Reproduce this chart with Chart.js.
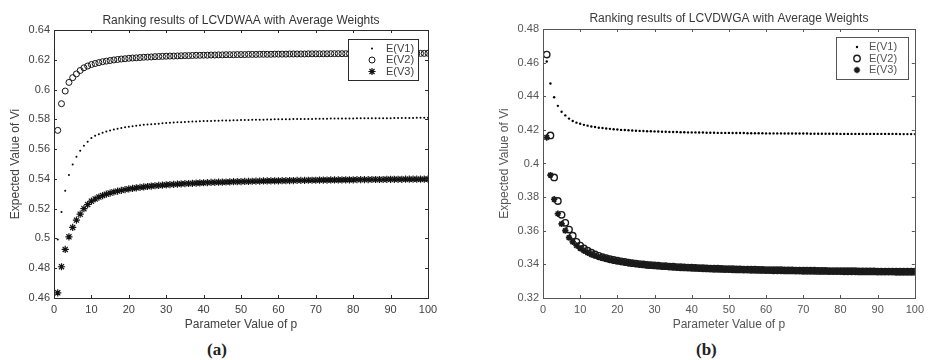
<!DOCTYPE html>
<html>
<head>
<meta charset="utf-8">
<script src="https://cdn.jsdelivr.net/npm/chart.js@4.4.1/dist/chart.umd.min.js"></script>
<style>
  body { margin: 0; background: #fff; width: 929px; height: 360px; position: relative; overflow: hidden; }
  canvas { position: absolute; top: 0; }
  #chartA { left: 0; }
  #chartB { left: 465px; }
  .cap { position: absolute; top: 341px; font: bold 17px 'Liberation Serif', serif; line-height: 18px; color: #222; }
</style>
</head>
<body>
<canvas id="chartA" width="465" height="340"></canvas>
<canvas id="chartB" width="464" height="340"></canvas>
<div class="cap" style="left:207px">(a)</div>
<div class="cap" style="left:696px">(b)</div>
<script>
// parameter p
var pValues = [1,2,3,4,5,6,7,8,9,10,11,12,13,14,15,16,17,18,19,20,21,22,23,24,25,26,27,28,29,30,
  31,32,33,34,35,36,37,38,39,40,41,42,43,44,45,46,47,48,49,50,51,52,53,54,55,56,57,58,59,60,
  61,62,63,64,65,66,67,68,69,70,71,72,73,74,75,76,77,78,79,80,81,82,83,84,85,86,87,88,89,90,
  91,92,93,94,95,96,97,98,99,100];

// (a) LCVDWAA
var waaV1 = [0.4993,0.5177,0.5320,0.5426,0.5497,0.5549,0.5589,0.5622,0.5649,0.5675,
  0.5689,0.5700,0.5710,0.5718,0.5725,0.5731,0.5737,0.5742,0.5746,0.5750,
  0.5754,0.5757,0.5760,0.5763,0.5765,0.5767,0.5769,0.5771,0.5773,0.5775,
  0.5777,0.5778,0.5780,0.5781,0.5782,0.5783,0.5785,0.5786,0.5787,0.5788,
  0.5788,0.5789,0.5790,0.5791,0.5792,0.5792,0.5793,0.5794,0.5794,0.5795,
  0.5796,0.5796,0.5797,0.5797,0.5798,0.5798,0.5799,0.5799,0.5800,0.5800,
  0.5800,0.5801,0.5801,0.5802,0.5802,0.5802,0.5803,0.5803,0.5803,0.5804,
  0.5804,0.5804,0.5804,0.5805,0.5805,0.5805,0.5806,0.5806,0.5806,0.5806,
  0.5807,0.5807,0.5807,0.5807,0.5807,0.5808,0.5808,0.5808,0.5808,0.5808,
  0.5809,0.5809,0.5809,0.5809,0.5809,0.5809,0.5810,0.5810,0.5810,0.5810];
var waaV2 = [0.5726,0.5905,0.5990,0.6048,0.6080,0.6105,0.6128,0.6146,0.6158,0.6168,
  0.6175,0.6181,0.6187,0.6191,0.6195,0.6199,0.6202,0.6205,0.6207,0.6210,
  0.6212,0.6213,0.6215,0.6217,0.6218,0.6219,0.6221,0.6222,0.6223,0.6224,
  0.6225,0.6225,0.6226,0.6227,0.6228,0.6228,0.6229,0.6230,0.6230,0.6231,
  0.6231,0.6232,0.6232,0.6233,0.6233,0.6234,0.6234,0.6234,0.6235,0.6235,
  0.6235,0.6236,0.6236,0.6236,0.6237,0.6237,0.6237,0.6237,0.6238,0.6238,
  0.6238,0.6238,0.6239,0.6239,0.6239,0.6239,0.6239,0.6240,0.6240,0.6240,
  0.6240,0.6240,0.6240,0.6241,0.6241,0.6241,0.6241,0.6241,0.6241,0.6241,
  0.6242,0.6242,0.6242,0.6242,0.6242,0.6242,0.6242,0.6242,0.6243,0.6243,
  0.6243,0.6243,0.6243,0.6243,0.6243,0.6243,0.6243,0.6243,0.6243,0.6244];
var waaV3 = [0.4635,0.4810,0.4926,0.5011,0.5074,0.5123,0.5163,0.5200,0.5228,0.5250,
  0.5265,0.5278,0.5288,0.5297,0.5305,0.5312,0.5318,0.5323,0.5328,0.5333,
  0.5336,0.5340,0.5343,0.5346,0.5349,0.5352,0.5354,0.5356,0.5358,0.5360,
  0.5362,0.5363,0.5365,0.5367,0.5368,0.5369,0.5370,0.5372,0.5373,0.5374,
  0.5375,0.5376,0.5377,0.5378,0.5378,0.5379,0.5380,0.5381,0.5381,0.5382,
  0.5383,0.5383,0.5384,0.5385,0.5385,0.5386,0.5386,0.5387,0.5387,0.5387,
  0.5388,0.5388,0.5389,0.5389,0.5390,0.5390,0.5390,0.5391,0.5391,0.5391,
  0.5392,0.5392,0.5392,0.5393,0.5393,0.5393,0.5394,0.5394,0.5394,0.5394,
  0.5395,0.5395,0.5395,0.5395,0.5396,0.5396,0.5396,0.5396,0.5397,0.5397,
  0.5397,0.5397,0.5397,0.5398,0.5398,0.5398,0.5398,0.5398,0.5398,0.5399];

// (b) LCVDWGA
var wgaV1 = [0.4607,0.4476,0.4394,0.4343,0.4308,0.4286,0.4267,0.4253,0.4243,0.4236,
  0.4230,0.4225,0.4220,0.4217,0.4213,0.4211,0.4208,0.4206,0.4204,0.4202,
  0.4200,0.4199,0.4198,0.4196,0.4195,0.4194,0.4193,0.4192,0.4192,0.4191,
  0.4190,0.4189,0.4189,0.4188,0.4187,0.4187,0.4186,0.4186,0.4185,0.4185,
  0.4185,0.4184,0.4184,0.4183,0.4183,0.4183,0.4182,0.4182,0.4182,0.4182,
  0.4181,0.4181,0.4181,0.4181,0.4180,0.4180,0.4180,0.4180,0.4180,0.4179,
  0.4179,0.4179,0.4179,0.4179,0.4178,0.4178,0.4178,0.4178,0.4178,0.4178,
  0.4178,0.4177,0.4177,0.4177,0.4177,0.4177,0.4177,0.4177,0.4177,0.4176,
  0.4176,0.4176,0.4176,0.4176,0.4176,0.4176,0.4176,0.4176,0.4176,0.4176,
  0.4176,0.4176,0.4176,0.4176,0.4176,0.4175,0.4175,0.4175,0.4175,0.4175];
var wgaV2 = [0.4648,0.4167,0.3917,0.3777,0.3695,0.3647,0.3607,0.3571,0.3534,0.3512,
  0.3495,0.3481,0.3469,0.3459,0.3451,0.3443,0.3437,0.3431,0.3426,0.3422,
  0.3418,0.3414,0.3411,0.3407,0.3405,0.3402,0.3400,0.3397,0.3395,0.3394,
  0.3392,0.3390,0.3389,0.3387,0.3386,0.3384,0.3383,0.3382,0.3381,0.3380,
  0.3379,0.3378,0.3377,0.3376,0.3375,0.3374,0.3374,0.3373,0.3372,0.3372,
  0.3371,0.3370,0.3370,0.3369,0.3369,0.3368,0.3368,0.3367,0.3367,0.3366,
  0.3366,0.3365,0.3365,0.3365,0.3364,0.3364,0.3364,0.3363,0.3363,0.3362,
  0.3362,0.3362,0.3362,0.3361,0.3361,0.3361,0.3360,0.3360,0.3360,0.3360,
  0.3359,0.3359,0.3359,0.3359,0.3358,0.3358,0.3358,0.3358,0.3358,0.3357,
  0.3357,0.3357,0.3357,0.3357,0.3356,0.3356,0.3356,0.3356,0.3356,0.3356];
var wgaV3 = [0.4155,0.3931,0.3787,0.3701,0.3641,0.3601,0.3559,0.3534,0.3512,0.3495,
  0.3481,0.3469,0.3459,0.3451,0.3443,0.3437,0.3431,0.3426,0.3422,0.3418,
  0.3414,0.3411,0.3407,0.3405,0.3402,0.3400,0.3397,0.3395,0.3394,0.3392,
  0.3390,0.3389,0.3387,0.3386,0.3384,0.3383,0.3382,0.3381,0.3380,0.3379,
  0.3378,0.3377,0.3376,0.3375,0.3374,0.3374,0.3373,0.3372,0.3372,0.3371,
  0.3370,0.3370,0.3369,0.3369,0.3368,0.3368,0.3367,0.3367,0.3366,0.3366,
  0.3365,0.3365,0.3365,0.3364,0.3364,0.3364,0.3363,0.3363,0.3362,0.3362,
  0.3362,0.3362,0.3361,0.3361,0.3361,0.3360,0.3360,0.3360,0.3360,0.3359,
  0.3359,0.3359,0.3359,0.3358,0.3358,0.3358,0.3358,0.3358,0.3357,0.3357,
  0.3357,0.3357,0.3357,0.3356,0.3356,0.3356,0.3356,0.3356,0.3356,0.3356];

var seriesNames = ["E(V1)", "E(V2)", "E(V3)"];
var FONT = "'Liberation Sans', Arial, sans-serif";

function points(vals) {
  return pValues.map(function (p, i) { return { x: p, y: vals[i] }; });
}

// little marker for the legend, same look as the points
function drawMarker(ctx, ds, x, y) {
  var r = ds.pointRadius;
  ctx.save();
  ctx.fillStyle = ds.pointBackgroundColor;
  ctx.strokeStyle = ds.pointBorderColor;
  ctx.lineWidth = ds.pointBorderWidth;
  ctx.beginPath();
  if (ds.pointStyle === 'star') {
    for (var k = 0; k < 4; k++) {
      var a = k * Math.PI / 4;
      ctx.moveTo(x - Math.cos(a) * r, y - Math.sin(a) * r);
      ctx.lineTo(x + Math.cos(a) * r, y + Math.sin(a) * r);
    }
    ctx.stroke();
  } else {
    ctx.arc(x, y, r, 0, Math.PI * 2);
    ctx.fill();
    if (ds.pointBorderWidth) ctx.stroke();
  }
  ctx.restore();
}

// matlab style box: frame, inner ticks, legend in the corner
var matlabBox = {
  id: 'matlabBox',
  afterDatasetsDraw: function (chart, args, opts) {
    var ctx = chart.ctx, a = chart.chartArea;
    var xs = chart.scales.x, ys = chart.scales.y;
    ctx.save();
    ctx.strokeStyle = opts.frameColor;
    ctx.lineWidth = 1;
    ctx.beginPath();
    xs.ticks.forEach(function (t) {
      var px = Math.round(xs.getPixelForValue(t.value)) + 0.5;
      ctx.moveTo(px, a.bottom); ctx.lineTo(px, a.bottom - 3);
      ctx.moveTo(px, a.top); ctx.lineTo(px, a.top + 3);
    });
    ys.ticks.forEach(function (t) {
      var py = Math.round(ys.getPixelForValue(t.value)) + 0.5;
      ctx.moveTo(a.left, py); ctx.lineTo(a.left + 3, py);
      ctx.moveTo(a.right, py); ctx.lineTo(a.right - 3, py);
    });
    ctx.stroke();
    ctx.strokeRect(Math.round(a.left) + 0.5, Math.round(a.top) + 0.5,
      Math.round(a.right - a.left), Math.round(a.bottom - a.top));

    // legend
    var L = opts.legend;
    ctx.fillStyle = '#fff';
    ctx.fillRect(L.x, L.y, L.w, L.h);
    ctx.strokeStyle = opts.frameColor;
    ctx.strokeRect(L.x + 0.5, L.y + 0.5, L.w, L.h);
    ctx.font = '11px ' + FONT;
    ctx.fillStyle = opts.textColor;
    ctx.textBaseline = 'middle';
    chart.data.datasets.forEach(function (ds, i) {
      var ry = L.y + L.rowTop + i * L.rowGap;
      drawMarker(ctx, ds, L.markerX, ry);
      ctx.fillText(ds.label, L.textX, ry);
    });
    ctx.restore();
  }
};

function makeChart(id, cfg) {
  var fmt = function (v) { return String(Math.round(v * 100) / 100); };
  return new Chart(document.getElementById(id), {
    type: 'scatter',
    data: {
      datasets: [
        { label: seriesNames[0], data: points(cfg.v1), pointStyle: 'circle', pointRadius: cfg.dotR,
          pointBackgroundColor: '#000', pointBorderColor: '#000', pointBorderWidth: 0 },
        { label: seriesNames[1], data: points(cfg.v2), pointStyle: 'circle', pointRadius: cfg.circR,
          pointBackgroundColor: 'rgba(0,0,0,0)', pointBorderColor: cfg.markColor, pointBorderWidth: cfg.circW },
        { label: seriesNames[2], data: points(cfg.v3), pointStyle: 'star', pointRadius: cfg.starR,
          pointBackgroundColor: 'rgba(0,0,0,0)', pointBorderColor: cfg.markColor, pointBorderWidth: cfg.starW }
      ]
    },
    options: {
      responsive: false,
      animation: false,
      devicePixelRatio: 1,
      layout: { padding: cfg.padding },
      plugins: {
        legend: { display: false },
        tooltip: { enabled: false },
        title: {
          display: true,
          text: cfg.title,
          fullSize: false,
          color: cfg.titleColor,
          font: { family: FONT, size: 12, weight: 'normal' },
          padding: cfg.titlePad
        },
        matlabBox: { frameColor: cfg.frameColor, textColor: cfg.textColor, legend: cfg.legend }
      },
      scales: {
        x: {
          type: 'linear', min: 0, max: 100,
          ticks: { stepSize: 10, padding: 5, maxRotation: 0, autoSkip: false, color: cfg.textColor, font: { family: FONT, size: 11 } },
          grid: { drawOnChartArea: false, drawTicks: false },
          border: { display: false },
          title: { display: true, text: 'Parameter Value of p', color: cfg.textColor,
            font: { family: FONT, size: 12 }, padding: { top: 0, bottom: 4 } },
          afterFit: function (s) { s.height = 38; }
        },
        y: {
          min: cfg.yMin, max: cfg.yMax,
          ticks: { stepSize: 0.02, padding: 4, color: cfg.textColor, font: { family: FONT, size: 11 }, callback: fmt },
          grid: { drawOnChartArea: false, drawTicks: false },
          border: { display: false },
          title: { display: true, text: 'Expected Value of Vi', color: cfg.textColor,
            font: { family: FONT, size: 12 }, padding: { top: 8, bottom: 0 } },
          afterFit: function (s) { s.width = 54; }
        }
      }
    },
    plugins: [matlabBox]
  });
}

makeChart('chartA', {
  title: 'Ranking results of LCVDWAA with Average Weights',
  v1: waaV1, v2: waaV2, v3: waaV3,
  yMin: 0.46, yMax: 0.64,
  dotR: 1, circR: 3, circW: 1, starR: 3.6, starW: 1.2,
  markColor: '#111', frameColor: '#2b2b2b', textColor: '#404040', titleColor: '#333',
  padding: { left: 0, right: 37, top: 0, bottom: 4 },
  titlePad: { top: 13, bottom: 2.6 },
  legend: { x: 348, y: 39, w: 70, h: 41, rowTop: 9.5, rowGap: 11.5, markerX: 372, textX: 386 }
});

makeChart('chartB', {
  title: 'Ranking results of LCVDWGA with Average Weights',
  v1: wgaV1, v2: wgaV2, v3: wgaV3,
  yMin: 0.32, yMax: 0.48,
  dotR: 1.2, circR: 3.2, circW: 1.4, starR: 3.2, starW: 1.6,
  markColor: '#1a1a1a', frameColor: '#555', textColor: '#555', titleColor: '#3a3a3a',
  padding: { left: 24, right: 12, top: 0, bottom: 4 },
  titlePad: { top: 11.3, bottom: 3.3 },
  legend: { x: 371, y: 37, w: 72, h: 42, rowTop: 10, rowGap: 11.5, markerX: 392, textX: 404 }
});
</script>
</body>
</html>
